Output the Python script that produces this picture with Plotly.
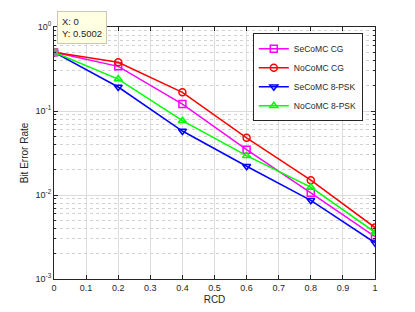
import plotly.graph_objects as go

rcd = [0, 0.2, 0.4, 0.6, 0.8, 1.0]
secomc_cg = [0.5002, 0.34, 0.121, 0.0346, 0.0106, 0.0032]
nocomc_cg = [0.5002, 0.38, 0.167, 0.048, 0.015, 0.0041]
secomc_8psk = [0.5002, 0.193, 0.0578, 0.022, 0.00865, 0.0027]
nocomc_8psk = [0.5002, 0.24, 0.0767, 0.0294, 0.0124, 0.0036]
names = ["SeCoMC CG", "NoCoMC CG", "SeCoMC 8-PSK", "NoCoMC 8-PSK"]
colors = ["#ff00ff", "#ff0000", "#0000ff", "#00ff00"]
symbols = ["square-open", "circle-open", "triangle-down-open", "triangle-up-open"]
xticks = [0, 0.1, 0.2, 0.3, 0.4, 0.5, 0.6, 0.7, 0.8, 0.9, 1]
yticks = [1e-3, 1e-2, 1e-1, 1]
yticktext = ["10<sup>-3</sup>", "10<sup>-2</sup>", "10<sup>-1</sup>", "10<sup>0</sup>"]
yminor = [k * 10.0 ** e for e in (-3, -2, -1) for k in range(2, 10)]
tip_x, tip_y = 0, 0.5002

FONT = "Liberation Sans"
fig = go.Figure()
for ys, n, c, s in zip([secomc_cg, nocomc_cg, secomc_8psk, nocomc_8psk], names, colors, symbols):
    fig.add_trace(go.Scatter(x=rcd, y=ys, name=n, mode="lines+markers",
                             line=dict(color=c, width=1.5),
                             marker=dict(symbol=s, size=7, color=c, line=dict(width=1.5, color=c))))
fig.add_trace(go.Scatter(x=[tip_x], y=[tip_y], mode="markers", showlegend=False,
                         marker=dict(symbol="square", size=8, color="#8c8c8c")))
fig.add_annotation(x=tip_x, y=1.0, xref="x", yref="y domain", text="X: 0<br>Y: 0.5002",
                   showarrow=False, xanchor="left", yanchor="middle", xshift=3, yshift=0,
                   align="left", bgcolor="#ffffe1", bordercolor="#c8c8b4", borderwidth=1,
                   borderpad=4, font=dict(size=9.5, color="#262626", family=FONT))

axis_common = dict(showline=True, linecolor="#262626", linewidth=1, mirror="ticks",
                   ticks="inside", ticklen=4, tickcolor="#262626", automargin=False,
                   gridcolor="#dcdcdc", gridwidth=1, zeroline=False,
                   tickfont=dict(size=9, color="#262626", family=FONT))
fig.update_xaxes(range=[0, 1], tickvals=xticks, ticktext=[str(v) for v in xticks],
                 title=dict(text="RCD", font=dict(size=10, color="#262626", family=FONT), standoff=4),
                 **axis_common)
fig.update_yaxes(type="log", range=[-3, 0], tickvals=yticks, ticktext=yticktext,
                 title=dict(text="Bit Error Rate", font=dict(size=10, color="#262626", family=FONT), standoff=5),
                 minor=dict(tickmode="array", tickvals=yminor, ticks="inside", ticklen=2,
                            tickcolor="#262626", showgrid=True,
                            gridcolor="#d2d2d2", griddash="dot", gridwidth=1),
                 **axis_common)
# page body has a default margin; figure is sized so the plot area lands where the reference has it
fig.update_layout(width=407, height=304, margin=dict(l=46, r=40, t=19, b=33),
                  paper_bgcolor="white", plot_bgcolor="white",
                  legend=dict(x=0.962, y=0.975, xanchor="right", yanchor="top",
                              bgcolor="white", bordercolor="#262626", borderwidth=1,
                              font=dict(size=8.5, color="#262626", family=FONT),
                              tracegroupgap=0, itemwidth=30))
fig.write_html("out.html")
